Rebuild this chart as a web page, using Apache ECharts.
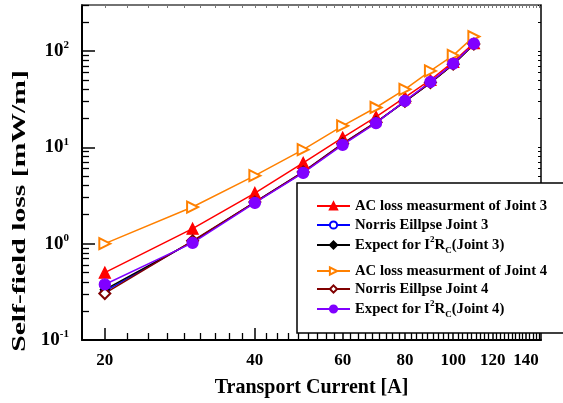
<!DOCTYPE html>
<html><head><meta charset="utf-8">
<script src="https://cdn.jsdelivr.net/npm/echarts@6/dist/echarts.min.js"></script>
<style>html,body{margin:0;padding:0;background:#fff}#c{width:563px;height:403px}</style>
</head><body><div id="c"></div>
<script>
// ---- data ----
const current = [20, 30, 40, 50, 60, 70, 80, 90, 100, 110];
const acLossJoint3 = [0.5, 1.43, 3.35, 6.9, 12.6, 20.7, 33, 50, 77, 121];
const norrisJoint3 = [0.32, 1.05, 2.7, 5.55, 10.9, 18.2, 30, 47, 73, 118];
const expectJoint3 = [0.334, 1.05, 2.68, 5.5, 10.8, 18, 29.8, 46.5, 72.5, 117];
const acLossJoint4 = [1.0, 2.4, 5.08, 9.45, 16.7, 25.9, 40, 62, 90, 141];
const norrisJoint4 = [0.304, 1.07, 2.7, 5.55, 10.9, 18.2, 30, 47, 73, 118];
const expectJoint4 = [0.377, 1.02, 2.65, 5.42, 10.6, 17.8, 30.3, 47.7, 74, 119];
const seriesNames = ['AC loss measurment of Joint 3', 'Norris Eillpse Joint 3', 'Expect for I2RC(Joint 3)',
                     'AC loss measurment of Joint 4', 'Norris Eillpse Joint 4', 'Expect for I2RC(Joint 4)'];
const xTickLabels = [20, 40, 60, 80, 100, 120, 140];
const yTickValues = [0.1, 1, 10, 100];
const yMinorTicks = [0.2,0.3,0.4,0.5,0.6,0.7,0.8,0.9, 2,3,4,5,6,7,8,9, 20,30,40,50,60,70,80,90, 200,300];
const xMinorTicks = [];
for (let i = 0; i < xTickLabels.length; i++) {
  const a = xTickLabels[i];
  for (let k = 1; k <= 8; k++) { const v = a + k * 20 / 9; if (v < 150) xMinorTicks.push(v); }
}
const xAllTicks = xTickLabels.concat(xMinorTicks);
const yAllTicks = yTickValues.concat(yMinorTicks);

const FF = '"Liberation Serif", "Times New Roman", serif';
const pair = arr => current.map((x, i) => [x, arr[i]]);

const chart = echarts.init(document.getElementById('c'), null, {renderer: 'canvas'});

const logX = (extra) => Object.assign({type: 'log', logBase: 10, min: 18, max: 150, splitLine: {show: false}, minorTick: {show: false}, minorSplitLine: {show: false}}, extra);
const logY = (extra) => Object.assign({type: 'log', logBase: 10, min: 0.1, max: 300, splitLine: {show: false}, minorTick: {show: false}, minorSplitLine: {show: false}}, extra);

const mkSeries = (name, data, color, symbol, size, extra) => Object.assign({
  name, type: 'line', data: pair(data), symbol, symbolSize: size,
  lineStyle: {color, width: 1.5}, itemStyle: {color, borderColor: color, borderWidth: 1.3},
  emphasis: {disabled: true}, animation: false
}, extra || {});

const rich = {
  sup: {fontSize: 9, fontWeight: 'bold', fontFamily: FF, color: '#000', verticalAlign: 'top'},
  sub: {fontSize: 9, fontWeight: 'bold', fontFamily: FF, color: '#000', verticalAlign: 'bottom'}
};
const legendTops = [191, 210, 230, 256, 274, 294];
const legends = seriesNames.map((n, i) => ({
  data: [n], left: 311, top: legendTops[i], orient: 'vertical', itemWidth: 33, itemHeight: 9,
  selectedMode: false, z: 5,
  textStyle: {fontFamily: FF, fontWeight: 'bold', fontSize: 14.7, color: '#000', lineHeight: 20, rich},
  formatter: name => name.replace('I2RC', 'I{sup|2}R{sub|C}')
}));

const option = {
  animation: false,
  backgroundColor: '#fff',
  grid: {left: 82, right: 22, top: 5, bottom: 61, containLabel: false},
  xAxis: [
    logX({position: 'bottom', offset: 0,
      axisLine: {show: true, onZero: false, lineStyle: {color: '#000', width: 2}},
      axisTick: {show: true, inside: true, length: 12, customValues: xTickLabels, lineStyle: {color: '#000', width: 1.5}},
      axisLabel: {show: true, customValues: xTickLabels, margin: 12, color: '#000', fontFamily: FF, fontWeight: 'bold', fontSize: 17},
      name: 'Transport Current [A]', nameLocation: 'middle', nameGap: 38,
      nameTextStyle: {fontFamily: FF, fontWeight: 'bold', fontSize: 20, color: '#000'}}),
    logX({position: 'bottom', offset: 0,
      axisLine: {show: false},
      axisTick: {show: true, inside: true, length: 7, customValues: xMinorTicks, lineStyle: {color: '#000', width: 1.3}},
      axisLabel: {show: false}}),
    logX({position: 'top', offset: 0,
      axisLine: {show: true, onZero: false, lineStyle: {color: '#444', width: 1.5}},
      axisTick: {show: true, inside: true, length: 3, customValues: xAllTicks, lineStyle: {color: '#777', width: 1}},
      axisLabel: {show: false}})
  ],
  yAxis: [
    logY({position: 'left', offset: 0,
      axisLine: {show: true, onZero: false, lineStyle: {color: '#000', width: 2}},
      axisTick: {show: true, inside: true, length: 13, customValues: yTickValues, lineStyle: {color: '#000', width: 1.5}},
      axisLabel: {show: true, customValues: yTickValues, margin: 13, color: '#000', fontFamily: FF, fontWeight: 'bold', fontSize: 19, lineHeight: 22,
        formatter: v => '10{sup|' + Math.round(Math.log10(v)) + '}',
        rich: {sup: {fontSize: 11, fontWeight: 'bold', fontFamily: FF, color: '#000', verticalAlign: 'top'}}}}),
    logY({position: 'left', offset: 0,
      axisLine: {show: false},
      axisTick: {show: true, inside: true, length: 7, customValues: yMinorTicks, lineStyle: {color: '#000', width: 1.3}},
      axisLabel: {show: false}}),
    logY({position: 'right', offset: 0,
      axisLine: {show: true, onZero: false, lineStyle: {color: '#000', width: 1.5}},
      axisTick: {show: true, inside: true, length: 3, customValues: yAllTicks, lineStyle: {color: '#000', width: 1}},
      axisLabel: {show: false}})
  ],
  legend: legends,
  graphic: [
    {type: 'rect', z: 3, shape: {x: 297, y: 183, width: 275, height: 150}, style: {fill: '#fff', stroke: '#000', lineWidth: 1.5}},
    {type: 'text', z: 3, x: 20, y: 211, rotation: Math.PI / 2, scaleX: 1.56, scaleY: 1,
      style: {text: 'Self-field loss [mW/m]', fontFamily: FF, fontWeight: 'bold', fontSize: 19, fill: '#000', align: 'center', verticalAlign: 'middle'}}
  ],
  series: [
    mkSeries(seriesNames[0], acLossJoint3, '#ff0000', 'triangle', 11),
    mkSeries(seriesNames[1], norrisJoint3, '#0000ff', 'emptyCircle', 8),
    mkSeries(seriesNames[2], expectJoint3, '#000000', 'diamond', 9),
    mkSeries(seriesNames[3], acLossJoint4, '#ff8000', 'emptyTriangle', 11, {symbolRotate: -90}),
    mkSeries(seriesNames[4], norrisJoint4, '#800000', 'emptyDiamond', 11),
    mkSeries(seriesNames[5], expectJoint4, '#8000ff', 'circle', 11)
  ]
};
chart.setOption(option);
</script></body></html>
